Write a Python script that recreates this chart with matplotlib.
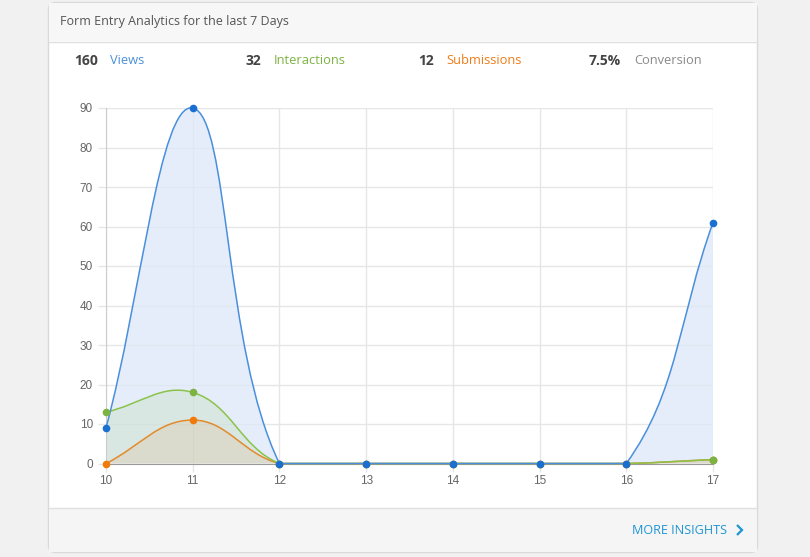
import numpy as np
import matplotlib.pyplot as plt
from matplotlib.path import Path
from matplotlib.patches import PathPatch, FancyBboxPatch, Rectangle

plt.rcParams['font.family'] = ['Open Sans', 'DejaVu Sans']

# data
days = [10, 11, 12, 13, 14, 15, 16, 17]
views = [9, 90, 0, 0, 0, 0, 0, 61]
interactions = [13, 18, 0, 0, 0, 0, 0, 1]
submissions = [0, 11, 0, 0, 0, 0, 0, 1]

W, H = 810, 557
fig = plt.figure(figsize=(W / 100, H / 100), dpi=100)
fig.patch.set_facecolor('#f1f1f1')

# background "card" drawn in pixel coords
bg = fig.add_axes([0, 0, 1, 1])
bg.set_xlim(0, W)
bg.set_ylim(H, 0)
bg.axis('off')
bg.add_patch(FancyBboxPatch((48.5, 2.5), 709, 550, boxstyle='round,pad=0,rounding_size=7',
                            fc='white', ec='#d9d9d9', lw=1))
bg.add_patch(Rectangle((49, 3), 708, 38, fc='#f7f7f7', ec='none'))
bg.plot([49, 757], [41.5, 41.5], color='#e0e0e0', lw=1)
bg.add_patch(Rectangle((49, 508), 708, 44, fc='#f5f5f5', ec='none'))
bg.plot([49, 757], [507.5, 507.5], color='#e0e0e0', lw=1)

bg.text(60, 21, 'Form Entry Analytics for the last 7 Days', fontsize=9.0,
        color='#555555', va='center')

total_v = sum(views)
total_i = sum(interactions)
total_s = sum(submissions)
stats = [(str(total_v), 'Views', '#4a90d9', 98, 110),
         (str(total_i), 'Interactions', '#7cb342', 261, 274),
         (str(total_s), 'Submissions', '#ef7d1a', 434, 446),
         ('%.1f%%' % (100 * total_s / total_v), 'Conversion', '#8a8a8a', 621, 634)]
for num, lab, col, xn, xl in stats:
    bg.text(xn, 61, num, fontsize=10, fontweight='bold', color='#444444',
            ha='right', va='center')
    bg.text(xl, 61, lab, fontsize=9.3, color=col, ha='left', va='center')

bg.text(727, 530, 'MORE INSIGHTS', fontsize=9.1, color='#1e95d4', ha='right', va='center')
bg.plot([737, 742, 737], [525, 530, 535], color='#1e95d4', lw=1.6,
        solid_joinstyle='miter', solid_capstyle='butt')

# main chart
x0, x1, y0, y1 = 106, 713, 463.5, 108
ax = fig.add_axes([x0 / W, 1 - y0 / H, (x1 - x0) / W, (y0 - y1) / H])
ax.set_facecolor('none')
ax.set_xlim(10, 17)
ax.set_ylim(0, 90)
ax.set_xticks(days)
ax.set_yticks(range(0, 91, 10))
ax.grid(True, color='#e6e6e6', lw=1)
ax.set_axisbelow(True)
for s in ['top', 'right']:
    ax.spines[s].set_visible(False)
ax.spines['left'].set_color('#cccccc')
ax.spines['bottom'].set_color('#999999')
ax.tick_params(colors='#e6e6e6', labelcolor='#666666', labelsize=8.5, length=6, width=1)
ax.tick_params(axis='x', pad=2)
for lab in ax.get_xticklabels() + ax.get_yticklabels():
    lab.set_fontfamily(['Liberation Sans', 'DejaVu Sans'])

sx = (x1 - x0) / 7.0
sy = (y0 - y1) / 90.0


def spline_path(xs, ys, t=0.4):
    # Chart.js-style cardinal spline, computed in pixel space
    P = np.array([[(x - 10) * sx, y * sy] for x, y in zip(xs, ys)])
    n = len(P)
    cps = []
    for i in range(n):
        prev = P[max(i - 1, 0)]
        cur = P[i]
        nxt = P[min(i + 1, n - 1)]
        d01 = np.hypot(*(cur - prev))
        d12 = np.hypot(*(nxt - cur))
        tot = d01 + d12
        s01 = d01 / tot if tot else 0
        s12 = d12 / tot if tot else 0
        fa, fb = t * s01, t * s12
        cp_prev = cur - fa * (nxt - prev)
        cp_next = cur + fb * (nxt - prev)
        for cp in (cp_prev, cp_next):
            cp[0] = min(max(cp[0], 0), 7 * sx)
            cp[1] = max(cp[1], 0)
        cps.append((cp_prev, cp_next))
    verts = [P[0]]
    codes = [Path.MOVETO]
    for i in range(n - 1):
        verts += [cps[i][1], cps[i + 1][0], P[i + 1]]
        codes += [Path.CURVE4] * 3
    verts = np.array(verts)
    verts[:, 0] = verts[:, 0] / sx + 10
    verts[:, 1] = verts[:, 1] / sy
    return verts, codes


# drawn bottom to top: submissions, interactions, views
series = [(submissions, '#e38a2c', '#f07b0c', '#e38a2c', 0.12),
          (interactions, '#8bc34a', '#7cb342', '#8bc34a', 0.12),
          (views, '#4a8fdc', '#1a6fd1', '#dce8f7', 0.75)]
for z, (vals, lc, mc, fc, fa) in enumerate(series):
    verts, codes = spline_path(days, vals)
    fill_v = np.vstack([verts, [[17, 0], [10, 0], verts[0]]])
    fill_c = codes + [Path.LINETO, Path.LINETO, Path.CLOSEPOLY]
    ax.add_patch(PathPatch(Path(fill_v, fill_c), fc=fc, ec='none', alpha=fa,
                           zorder=2 - z * 0.1, clip_on=False))
    ax.add_patch(PathPatch(Path(verts, codes), fc='none', ec=lc, lw=1.1,
                           zorder=5 + z, clip_on=False))
    ax.plot(days, vals, 'o', color=mc, ms=5.5, mec='none', clip_on=False, zorder=8 + z)

# the green point at 17 sits above the others in the reference
ax.plot(days[-1], interactions[-1], 'o', color='#7cb342', ms=5.5, mec='none',
        clip_on=False, zorder=12)

plt.savefig('out.png', dpi=100)
